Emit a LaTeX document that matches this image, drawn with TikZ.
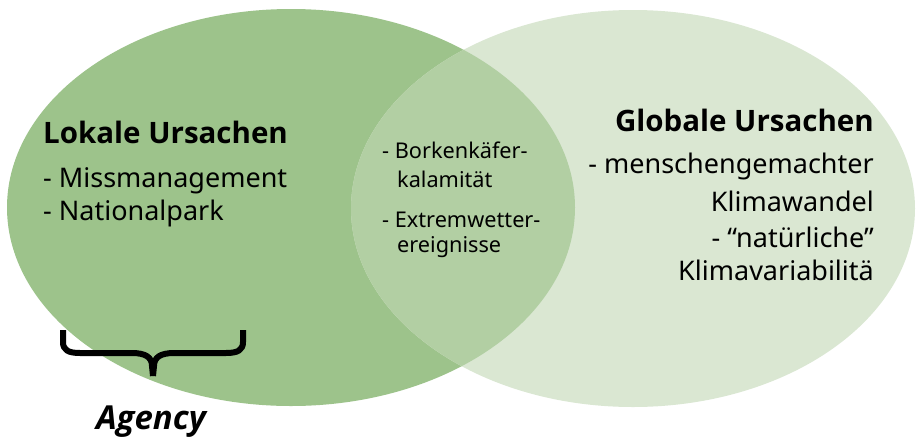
\documentclass[tikz,border=0pt]{standalone}
\usepackage{fontspec}
\setmainfont{Noto Sans}
\newfontfamily\kopf{Open Sans}
\usetikzlibrary{positioning}

\definecolor{lokalgruen}{HTML}{9DC38B}
\definecolor{globalgruen}{HTML}{DAE7D2}
\definecolor{schnittgruen}{HTML}{B2CFA3}

\begin{document}
\begin{tikzpicture}[x=1pt, y=-1pt,
  head/.style={font=\kopf\fontsize{29.5}{34}\selectfont\bfseries, inner sep=0pt},
  item/.style={font=\fontsize{27}{30}\selectfont, inner sep=0pt},
  mid/.style={font=\fontsize{21.7}{25}\selectfont, inner sep=0pt},
  klammer/.style={line width=6pt, line join=round}]
  \useasboundingbox (0,0) rectangle (916,437);

  % Kreise
  \fill[lokalgruen] (291,207.5) ellipse [x radius=284, y radius=198.5];
  \fill[globalgruen] (633,208.5) ellipse [x radius=282, y radius=198.5];
  \begin{scope}
    \clip (291,207.5) ellipse [x radius=284, y radius=198.5];
    \fill[schnittgruen] (633,208.5) ellipse [x radius=282, y radius=198.5];
  \end{scope}

  % lokal
  \node[head, anchor=base west] (lokal) at (43,143) {Lokale Ursachen};
  \node[item, anchor=base west] (miss) at (43,187) {- Missmanagement};
  \node[item, anchor=base west] (park) at (43,220) {- Nationalpark};

  % Schnittmenge
  \node[mid, anchor=base west] (bork) at (382,158) {- Borkenkäfer-};
  \node[mid, anchor=base west] (kala) at (397,187) {kalamität};
  \node[mid, anchor=base west] (extr) at (382,227) {- Extremwetter-};
  \node[mid, anchor=base west] (ereig) at (397,252) {ereignisse};

  % global
  \node[head, anchor=base east] (global) at (874,131) {Globale Ursachen};
  \node[item, anchor=base east] (mensch) at (874,173) {- menschengemachter};
  \node[item, anchor=base east] (wandel) at (874,211) {Klimawandel};
  \node[item, anchor=base east] (natur) at (874,247) {- “natürliche”};
  \node[item, anchor=base east] (vari) at (874,280) {Klimavariabilitä};

  % Agency
  \coordinate (kl) at (63,330);
  \coordinate (kr) at (243,330);
  \coordinate (spitze) at (153,376);
  \draw[klammer] (kl) -- ++(0,12) .. controls +(0,8) and +(-12,0) .. ++(17,11)
    -- ++(52,0) .. controls +(13,0) and +(0,-9) .. ++(20,13) -- (spitze);
  \draw[klammer] (kr) -- ++(0,12) .. controls +(0,8) and +(12,0) .. ++(-17,11)
    -- ++(-52,0) .. controls +(-13,0) and +(0,-9) .. ++(-20,13) -- (spitze);
  \node[font=\kopf\fontsize{33}{38}\selectfont\bfseries\itshape, anchor=base] (agency) at (151,429) {Agency};
\end{tikzpicture}
\end{document}
